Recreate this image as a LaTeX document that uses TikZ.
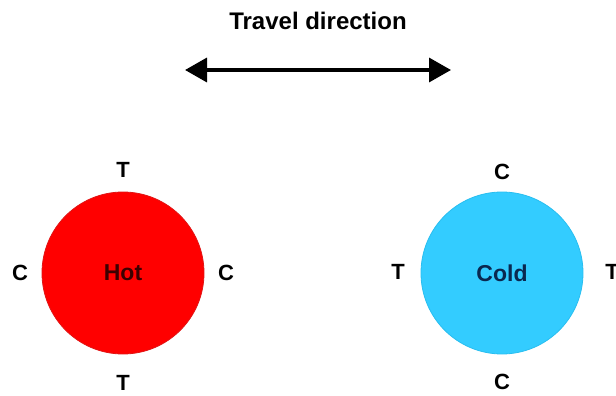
\documentclass[tikz,border=0pt]{standalone}
\usepackage{fontspec}
\setmainfont{Liberation Sans}
\usetikzlibrary{arrows.meta}
\definecolor{hotred}{RGB}{255,0,0}
\definecolor{hotedge}{RGB}{225,20,20}
\definecolor{coldblue}{RGB}{51,204,255}
\definecolor{coldedge}{RGB}{40,190,240}
\definecolor{coldtext}{RGB}{10,40,80}
\definecolor{hottext}{RGB}{60,0,0}
\begin{document}
\begin{tikzpicture}[x=1pt,y=-1pt,
  lbl/.style={font=\fontsize{22}{26}\selectfont\bfseries, inner sep=0pt},
  ball/.style={circle, minimum size=162pt, inner sep=0pt, line width=0.8pt, font=\fontsize{23}{27}\selectfont\bfseries}]
\useasboundingbox (0,0) rectangle (616,396);
\node[lbl, font=\fontsize{24}{28}\selectfont\bfseries] (title) at (318,21) {Travel direction};
\coordinate (al) at (185,70);
\coordinate (ar) at (451,70);
\draw[line width=3.5pt, {Triangle[length=22pt,width=24pt]}-{Triangle[length=22pt,width=24pt]}] (al) -- (ar);
\node[ball, fill=hotred, draw=hotedge, text=hottext] (hot) at (123,273) {Hot};
\node[ball, fill=coldblue, draw=coldedge, text=coldtext] (cold) at (502,273) {Cold};
\node[lbl] (ht) at (123,170) {T};
\node[lbl] (hb) at (123,383) {T};
\node[lbl] (hl) at (20,273) {C};
\node[lbl] (hr) at (226,273) {C};
\node[lbl] (ct) at (502,172) {C};
\node[lbl] (cb) at (502,382) {C};
\node[lbl] (cl) at (398,272) {T};
\node[lbl] (cr) at (612,272) {T};
\end{tikzpicture}
\end{document}
